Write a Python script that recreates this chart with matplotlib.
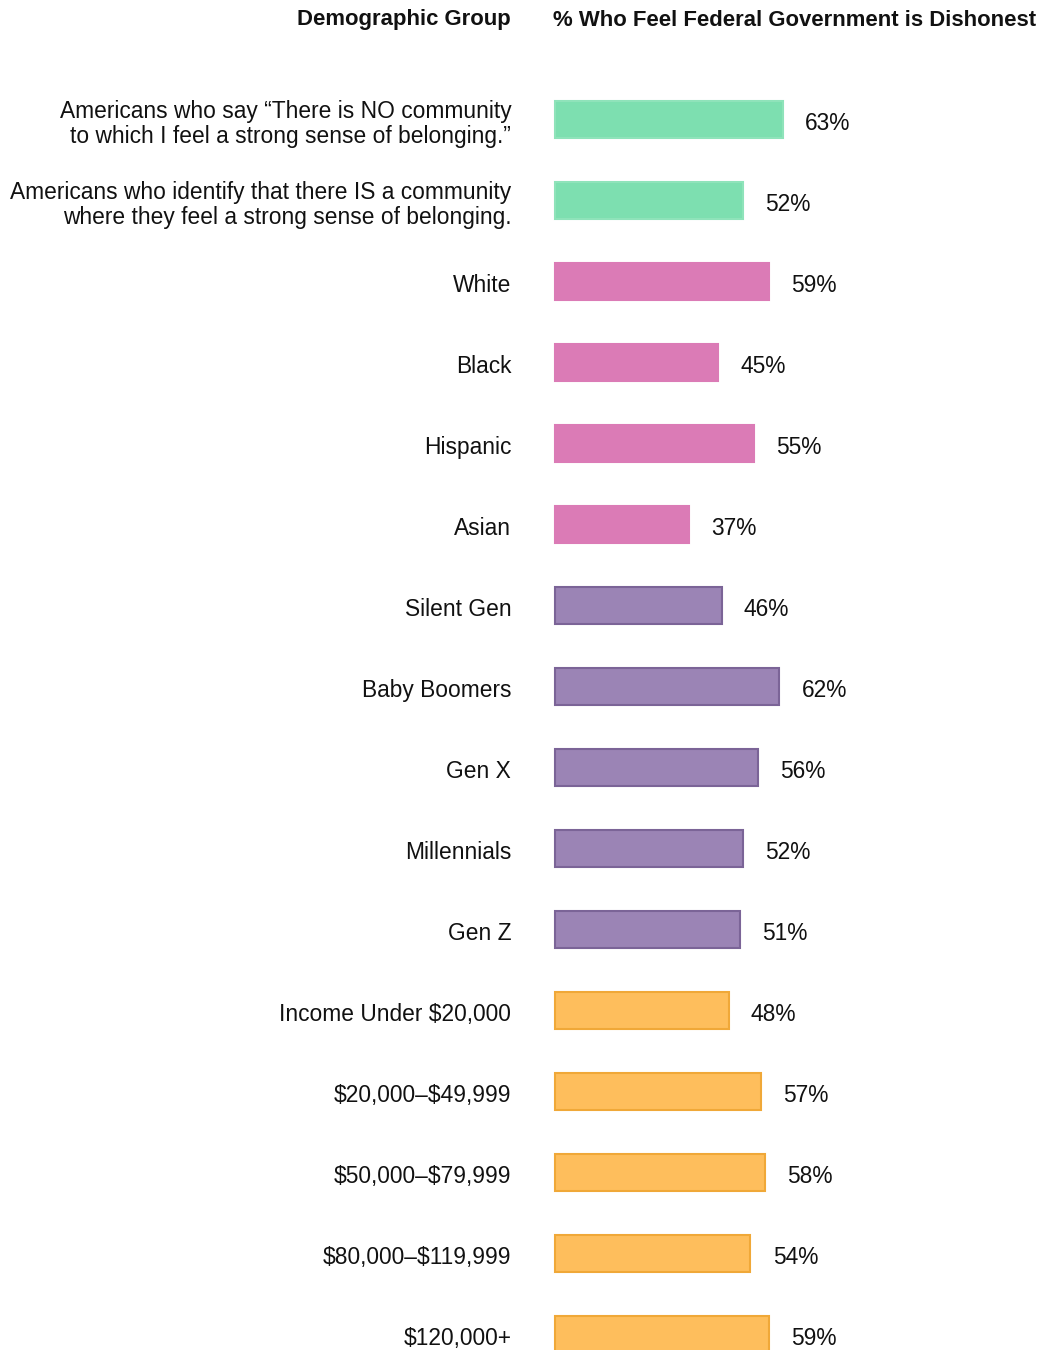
import matplotlib
matplotlib.use('Agg')
import matplotlib.pyplot as plt

plt.rcParams['font.family'] = ['Liberation Sans', 'DejaVu Sans']
plt.rcParams['text.parse_math'] = False

groups = [
    'Americans who say \u201cThere is NO community\nto which I feel a strong sense of belonging.\u201d',
    'Americans who identify that there IS a community\nwhere they feel a strong sense of belonging.',
    'White', 'Black', 'Hispanic', 'Asian',
    'Silent Gen', 'Baby Boomers', 'Gen X', 'Millennials', 'Gen Z',
    'Income Under $20,000', '$20,000\u2013$49,999', '$50,000\u2013$79,999',
    '$80,000\u2013$119,999', '$120,000+',
]
values = [63, 52, 59, 45, 55, 37, 46, 62, 56, 52, 51, 48, 57, 58, 54, 59]
category = ['belonging'] * 2 + ['race'] * 4 + ['generation'] * 5 + ['income'] * 5

fills = {'belonging': '#7DDFB0', 'race': '#DB7BB6', 'generation': '#9B84B5', 'income': '#FEBE5C'}
edges = {'belonging': '#8FE3BA', 'race': '#DB7BB6', 'generation': '#7B6497', 'income': '#F0A838'}

W, H = 1040, 1350
fig = plt.figure(figsize=(W / 100, H / 100), dpi=100)

# axes: x from pixel 555, 3.62 px per percent; rows 81 px apart, first centre at 119.5 px
x0 = 555
ppp = 3.62
ax = fig.add_axes([x0 / W, 0, (W - x0) / W, 1])
ax.set_xlim(0, (W - x0) / ppp)
top = -119.5 / 81
bottom = (H - 119.5) / 81
ax.set_ylim(bottom, top)
ax.axis('off')

rows = list(range(len(groups)))
ax.barh(rows, values, height=37 / 81,
        color=[fills[c] for c in category],
        edgecolor=[edges[c] for c in category], linewidth=1.5, clip_on=False)

for i, (g, v) in enumerate(zip(groups, values)):
    ax.annotate(f'{v}%', (v, i), xytext=(16, -3), textcoords='offset points',
                ha='left', va='center', fontsize=16.4, color='#111111')
    ax.annotate(g, (0, i), xytext=(-31.5, -3), textcoords='offset points',
                ha='right', va='center', fontsize=16.4, color='#111111',
                multialignment='right', linespacing=1.1)

fig.text(511 / W, 1 - 20 / H, 'Demographic Group', ha='right', va='center',
         fontsize=15.9, fontweight='bold', color='#111111')
fig.text(553 / W, 1 - 20 / H, '% Who Feel Federal Government is Dishonest', ha='left', va='center',
         fontsize=15.9, fontweight='bold', color='#111111')

plt.savefig('out.png', dpi=100)
